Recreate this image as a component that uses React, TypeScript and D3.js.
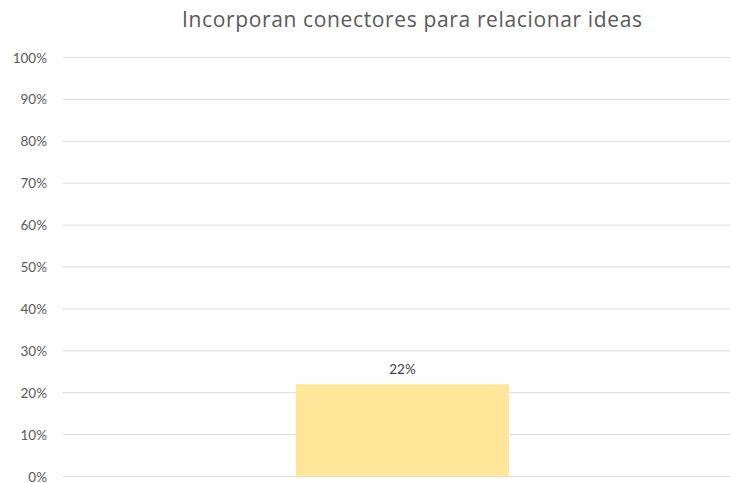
import React from "react";
import * as d3 from "d3";

const title = "Incorporan conectores para relacionar ideas";
const categories = ["Incorporan conectores"];
const values = [0.22];
const yTicks = [0, 0.1, 0.2, 0.3, 0.4, 0.5, 0.6, 0.7, 0.8, 0.9, 1.0];

export default function App() {
  const W = 730, H = 483;
  const x = d3.scaleBand<string>().domain(categories).range([63, 742]).paddingInner(0).paddingOuter(1.094);
  const y = d3.scaleLinear().domain([0, 1]).range([476.5, 57.5]);
  const fmt = d3.format(".0%");
  const font = "Lato, 'Open Sans', sans-serif";
  return (
    <svg width={W} height={H} style={{ position: "absolute", left: 0, top: 0, background: "#fff" }}>
      <text x={182} y={27} textLength={460} lengthAdjust="spacing" fontFamily="'Open Sans', sans-serif" fontSize={21} fill="#595959">{title}</text>
      {yTicks.map((t) => (
        <g key={t}>
          <line x1={63} x2={730} y1={y(t)} y2={y(t)} stroke="#d9d9d9" strokeWidth={1} />
          <text x={47} y={y(t) + 5} textAnchor="end" fontFamily={font} fontSize={13.5} fill="#595959">{fmt(t)}</text>
        </g>
      ))}
      {categories.map((c, i) => (
        <g key={c}>
          <rect x={x(c)} y={y(values[i])} width={x.bandwidth()} height={y(0) - y(values[i])} fill="#FFE699" />
          <text x={(x(c) as number) + x.bandwidth() / 2} y={y(values[i]) - 10} textAnchor="middle" fontFamily={font} fontSize={13.5} fill="#404040">{fmt(values[i])}</text>
        </g>
      ))}
    </svg>
  );
}
